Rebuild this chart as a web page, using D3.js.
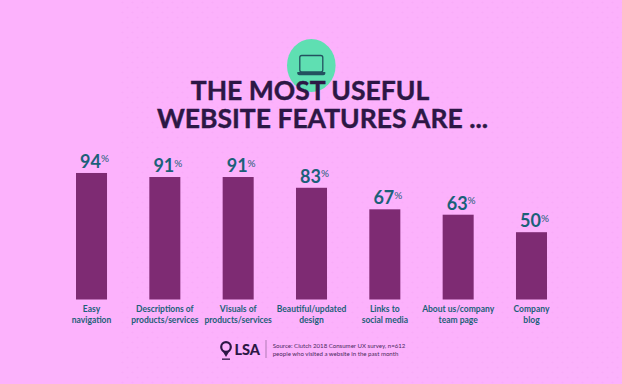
<!DOCTYPE html>
<html>
<head>
<meta charset="utf-8">
<script src="https://cdn.jsdelivr.net/npm/d3@7"></script>
<style>
  html, body { margin: 0; padding: 0; background: #fcb2fc; }
  svg { display: block; font-family: Lato, "Noto Sans", sans-serif; }
</style>
</head>
<body>
<div id="chart"></div>
<script>
var features = ["Easy navigation", "Descriptions of products/services", "Visuals of products/services",
                "Beautiful/updated design", "Links to social media", "About us/company team page", "Company blog"];
var label_lines = [["Easy", "navigation"], ["Descriptions of", "products/services"], ["Visuals of", "products/services"],
                   ["Beautiful/updated", "design"], ["Links to", "social media"], ["About us/company", "team page"], ["Company", "blog"]];
var percents = [94, 91, 91, 83, 67, 63, 50];
var title_lines = ["THE MOST USEFUL", "WEBSITE FEATURES ARE ..."];
var source_lines = ["Source: Clutch 2018 Consumer UX survey, n=612", "people who visited a website in the past month"];

var width = 622, height = 384;
var dark = "#2c1745", teal = "#1b6079", purple = "#7e2b73";

var svg = d3.select("#chart").append("svg")
            .attr("width", width)
            .attr("height", height);

// Dotted background, fades out towards the left
var pattern = svg.append("defs").append("pattern")
                 .attr("id", "dots")
                 .attr("width", 10)
                 .attr("height", 10)
                 .attr("patternUnits", "userSpaceOnUse");
pattern.append("circle").attr("cx", 2.5).attr("cy", 2.5).attr("r", 1).attr("fill", "#f59ef5").attr("opacity", 0.35);
pattern.append("circle").attr("cx", 7.5).attr("cy", 7.5).attr("r", 1).attr("fill", "#f59ef5").attr("opacity", 0.35);

svg.append("rect").attr("width", width).attr("height", height).attr("fill", "#fcb2fc");
svg.append("rect").attr("x", 120).attr("y", 0).attr("width", width - 120).attr("height", height).attr("fill", "url(#dots)");

// Laptop badge
var badge = svg.append("g").attr("transform", "translate(311.3,65.5)");
badge.append("ellipse").attr("rx", 24.3).attr("ry", 26.5).attr("fill", "#5fdfb2");
badge.append("rect").attr("x", -11.5).attr("y", -10).attr("width", 23).attr("height", 16.5).attr("rx", 2)
     .attr("fill", "none").attr("stroke", "#23515f").attr("stroke-width", 1.3);
badge.append("path").attr("d", "M-14,6.5 H14 V8 Q14,9.8 12,9.8 H-12 Q-14,9.8 -14,8 Z")
     .attr("fill", "#23515f");

// Title
svg.append("g").selectAll("text")
   .data(title_lines)
   .join("text")
   .attr("x", function(d, i) { return i === 0 ? 310 : 322.5; })
   .attr("y", function(d, i) { return 100 + i * 27.5; })
   .attr("text-anchor", "middle")
   .attr("font-size", 26.5)
   .attr("font-weight", 700)
   .attr("fill", dark)
   .attr("stroke", dark)
   .attr("stroke-width", 0.4)
   .text(function(d) { return d; });

// Scales
var xScale = d3.scaleBand()
               .domain(features)
               .range([76, 547])
               .paddingInner(0.577);
var yScale = d3.scaleLinear()
               .domain([0, 100])
               .range([299.5, 164.9]);

// Bars
svg.append("g").selectAll("rect")
   .data(percents)
   .join("rect")
   .attr("x", function(d, i) { return xScale(features[i]); })
   .attr("y", function(d) { return yScale(d); })
   .attr("width", xScale.bandwidth())
   .attr("height", function(d) { return yScale(0) - yScale(d); })
   .attr("fill", purple);

// Value labels
var values = svg.append("g").selectAll("text")
   .data(percents)
   .join("text")
   .attr("x", function(d, i) { return xScale(features[i]) + xScale.bandwidth() / 2 + 3; })
   .attr("y", function(d) { return yScale(d) - 5; })
   .attr("text-anchor", "middle")
   .attr("fill", teal)
   .attr("font-size", 18)
   .attr("font-weight", 700);
values.append("tspan").text(function(d) { return d; });
values.append("tspan")
      .attr("font-size", 10)
      .attr("font-weight", 400)
      .attr("dy", -5.5)
      .text("%");

// Category labels
var labels = svg.append("g").selectAll("text")
   .data(label_lines)
   .join("text")
   .attr("text-anchor", "middle")
   .attr("fill", teal)
   .attr("font-size", 8.5)
   .attr("font-weight", 700);
labels.selectAll("tspan")
      .data(function(d, i) {
        return d.map(function(line, j) { return { line: line, row: j, feature: features[i] }; });
      })
      .join("tspan")
      .attr("x", function(d) { return xScale(d.feature) + xScale.bandwidth() / 2; })
      .attr("y", function(d) { return 312 + d.row * 10.7; })
      .text(function(d) { return d.line; });

// LSA logo and source
var logo = svg.append("g").attr("transform", "translate(226,347)");
logo.append("circle").attr("r", 4.8).attr("fill", "none").attr("stroke", dark).attr("stroke-width", 2.2);
logo.append("path").attr("d", "M-3.5,4 L0,10 L3.5,4 Z").attr("fill", dark);
logo.append("rect").attr("x", -4).attr("y", 11.5).attr("width", 8).attr("height", 1.3).attr("fill", dark);

svg.append("text")
   .attr("x", 234.5)
   .attr("y", 355)
   .attr("font-size", 14.5)
   .attr("font-weight", 900)
   .attr("fill", dark)
   .text("LSA");

svg.append("line")
   .attr("x1", 266).attr("x2", 266)
   .attr("y1", 340).attr("y2", 358)
   .attr("stroke", "#b07ab5")
   .attr("stroke-width", 1);

svg.append("g").selectAll("text")
   .data(source_lines)
   .join("text")
   .attr("x", 272.7)
   .attr("y", function(d, i) { return 347.5 + i * 8; })
   .attr("font-size", 6.1)
   .attr("fill", "#4b2a60")
   .text(function(d) { return d; });
</script>
</body>
</html>
